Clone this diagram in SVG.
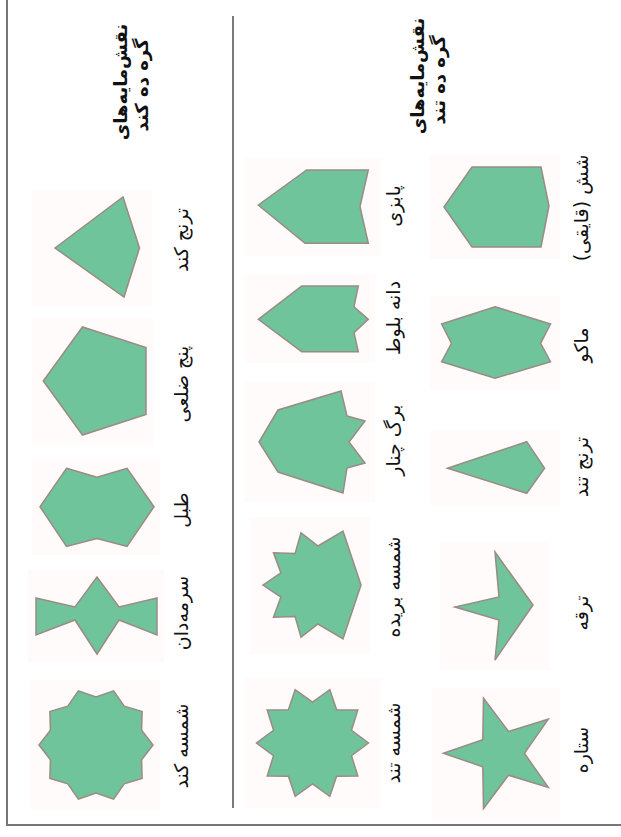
<svg xmlns="http://www.w3.org/2000/svg" width="621" height="837" viewBox="0 0 621 837">
<style>
.bg{fill:#fefbfa}
.sh{fill:#6fc49b;stroke:#9c8a85;stroke-width:1.5;stroke-linejoin:miter}
.lbl{font-family:"DejaVu Sans",sans-serif;font-size:19px;fill:#111;text-anchor:middle;direction:rtl}
.hd{font-family:"DejaVu Sans",sans-serif;font-size:18px;font-weight:bold;fill:#111;text-anchor:middle;direction:rtl}
.frame{stroke:#777;stroke-width:2;fill:none}
.sep{stroke:#333;stroke-width:1.3;fill:none}
</style>
<rect width="621" height="837" fill="#fff"/>
<g id="connectors">
<path class="frame" d="M7,0 V825 H621"/>
<path class="sep" d="M233,16 V808"/>
</g>
<g id="heading-kond">
<text class="hd" transform="translate(127,82) rotate(-90)">نقش‌مایه‌های</text>
<text class="hd" transform="translate(148,85) rotate(-90)">گره ده کند</text>
</g>
<g id="heading-tond">
<text class="hd" transform="translate(424,76) rotate(-90)">نقش‌مایه‌های</text>
<text class="hd" transform="translate(445,80) rotate(-90)">گره ده تند</text>
</g>
<g id="toranj-kond">
<rect class="bg" x="32" y="190" width="120" height="116"/>
<polygon class="sh" points="55,248 123,197 139.5,248 124,297"/>
<text class="lbl" transform="translate(188,240) rotate(-90)">ترنج کند</text>
</g>
<g id="panj-zelei">
<rect class="bg" x="32" y="318" width="122" height="126"/>
<polygon class="sh" points="43.3,381 82.5,327 146,347.6 146,414.4 82.5,435"/>
<text class="lbl" transform="translate(188,384) rotate(-90)">پنج ضلعی</text>
</g>
<g id="tabl">
<rect class="bg" x="32" y="460" width="128" height="95"/>
<polygon class="sh" points="66.5,468.3 97,477.3 127,468.3 154,506.7 127,546.5 97,538.5 66.5,546.5 40,506.7"/>
<text class="lbl" transform="translate(188,510) rotate(-90)">طبل</text>
</g>
<g id="sormedan">
<rect class="bg" x="28" y="570" width="136" height="92"/>
<polygon class="sh" points="36,598 75,607 97,577 119,607 157,598 157,635 119,620 97,654 75,620 36,635"/>
<text class="lbl" transform="translate(188,613) rotate(-90)">سرمه‌دان</text>
</g>
<g id="shamseh-kond">
<rect class="bg" x="30" y="680" width="130" height="130"/>
<polygon class="sh" points="153,745 141.6,759.8 142.1,778.5 124.2,783.8 113.6,799.2 96,793 78.4,799.2 67.8,783.8 49.9,778.5 50.4,759.8 39,745 50.4,730.2 49.9,711.5 67.8,706.2 78.4,690.8 96,697 113.6,690.8 124.2,706.2 142.1,711.5 141.6,730.2"/>
<text class="lbl" transform="translate(188,746) rotate(-90)">شمسه کند</text>
</g>
<g id="pabzi">
<rect class="bg" x="245" y="158" width="135" height="98"/>
<polygon class="sh" points="258.3,205 306.7,170 368.3,170 360,206.7 368.3,243.3 305,243.3"/>
<text class="lbl" transform="translate(400,206) rotate(-90)">پابزی</text>
</g>
<g id="daneh-balut">
<rect class="bg" x="245" y="275" width="130" height="88"/>
<polygon class="sh" points="258.3,319.3 301.7,286 358.3,286 354,306.7 368.3,319.3 354,332.7 358.3,351.7 301.7,351.7"/>
<text class="lbl" transform="translate(400,318) rotate(-90)">دانه بلوط</text>
</g>
<g id="barg-chenar">
<rect class="bg" x="245" y="382" width="130" height="120"/>
<polygon class="sh" points="341,391 347,416 365,421 349,442 365,463 347,468 343,493 278,472 259,442 278,410"/>
<text class="lbl" transform="translate(400,440) rotate(-90)">برگ چنار</text>
</g>
<g id="shamseh-borideh">
<rect class="bg" x="250" y="517" width="120" height="137"/>
<polygon class="sh" points="263,585 280.9,572.9 273.5,552.7 295.1,553.4 301,532.7 318,546 343,531 361,585 343,639 318,624 301,637.3 295.1,616.6 273.5,617.3 280.9,597.1"/>
<text class="lbl" transform="translate(400,587) rotate(-90)">شمسه بریده</text>
</g>
<g id="shamseh-tond">
<rect class="bg" x="245" y="678" width="135" height="130"/>
<polygon class="sh" points="368.5,743 351.5,755.7 357.8,775.9 336.6,776.2 329.8,796.3 312.5,784 295.2,796.3 288.4,776.2 267.2,775.9 273.5,755.7 256.5,743 273.5,730.3 267.2,710.1 288.4,709.8 295.2,689.7 312.5,702 329.8,689.7 336.6,709.8 357.8,710.1 351.5,730.3"/>
<text class="lbl" transform="translate(400,743) rotate(-90)">شمسه تند</text>
</g>
<g id="shesh-ghayeghi">
<rect class="bg" x="430" y="155" width="130" height="104"/>
<polygon class="sh" points="444,207 472,167 541,167 549,206 541,247 472,247"/>
<text class="lbl" transform="translate(588,208) rotate(-90)">شش (قایقی)</text>
</g>
<g id="mako">
<rect class="bg" x="430" y="296" width="130" height="94"/>
<polygon class="sh" points="495,306.7 550.5,324 540.6,343.3 550.5,361.7 495,378.3 441.6,361.7 451.5,343.3 441.6,324"/>
<text class="lbl" transform="translate(588,345) rotate(-90)">ماکو</text>
</g>
<g id="toranj-tond">
<rect class="bg" x="430" y="430" width="130" height="75"/>
<polygon class="sh" points="447.5,468.3 526.7,441.7 544.6,468.3 526.7,493.3"/>
<text class="lbl" transform="translate(588,467) rotate(-90)">ترنج تند</text>
</g>
<g id="taraghe">
<rect class="bg" x="440" y="542" width="110" height="128"/>
<polygon class="sh" points="495,552 533,605 495,660 499,620 455,607 499,597"/>
<text class="lbl" transform="translate(588,613) rotate(-90)">ترقه</text>
</g>
<g id="setareh">
<rect class="bg" x="432" y="688" width="128" height="132"/>
<polygon class="sh" points="443.4,753.3 482.8,739.8 483.5,698.1 508.5,731.4 548.3,719.2 524.4,753.3 548.3,787.4 508.5,775.2 483.5,808.5 482.8,766.8"/>
<text class="lbl" transform="translate(588,750) rotate(-90)">ستاره</text>
</g>
</svg>
